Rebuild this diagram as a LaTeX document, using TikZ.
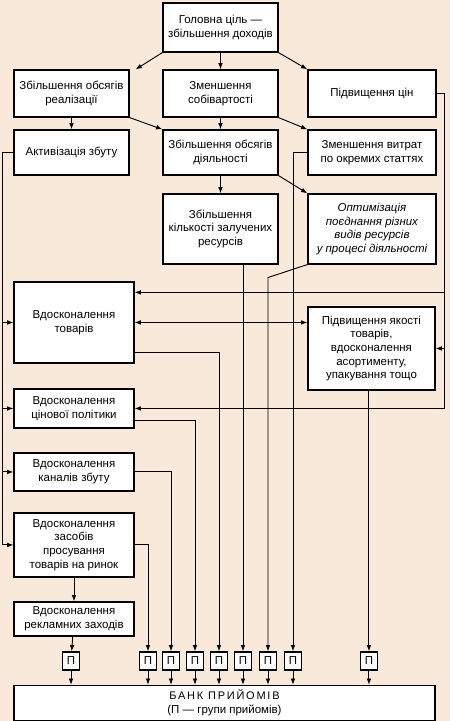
\documentclass[tikz,border=0pt]{standalone}
\usepackage{fontspec}
\setmainfont{Liberation Sans}
\newfontfamily\spacedfont[LetterSpace=16]{Liberation Sans}
\usetikzlibrary{arrows.meta,calc}
\definecolor{bgpeach}{RGB}{248,233,219}

\begin{document}
\begin{tikzpicture}[x=0.03cm, y=-0.03cm,
    box/.style={draw, fill=white, line width=1pt, align=center, inner sep=2pt,
        font=\fontsize{9.8}{11.6}\selectfont},
    pbox/.style={draw, fill=white, line width=1pt, minimum width=0.51cm,
        minimum height=0.54cm, inner sep=0pt, font=\fontsize{9.8}{10}\selectfont},
    arr/.style={line width=0.8pt, -{Latex[length=1.9mm,width=1.4mm]}},
    darr/.style={line width=0.8pt, {Latex[length=1.9mm,width=1.4mm]}-{Latex[length=1.9mm,width=1.4mm]}},
    line/.style={line width=0.8pt}]
    % Background
    \fill[bgpeach] (0,0) rectangle (450,721);

    % Goal and the three ways to it
    \node[box, minimum width=3.45cm, minimum height=1.47cm] (goal) at (220.5,27.5)
        {Головна ціль —\\збільшення доходів};
    \node[box, minimum width=3.45cm, minimum height=1.41cm] (sales) at (71.5,93.5)
        {Збільшення обсягів\\реалізації};
    \node[box, minimum width=3.45cm, minimum height=1.41cm] (cost) at (220.5,93.5)
        {Зменшення\\собівартості};
    \node[box, minimum width=3.84cm, minimum height=1.41cm] (price) at (372,93.5)
        {Підвищення цін};

    % Second level
    \node[box, minimum width=3.45cm, minimum height=1.35cm] (activ) at (71.5,152.5)
        {Активізація збуту};
    \node[box, minimum width=3.45cm, minimum height=1.35cm] (volume) at (220.5,152.5)
        {Збільшення обсягів\\діяльності};
    \node[box, minimum width=3.84cm, minimum height=1.35cm] (expense) at (372,152.5)
        {Зменшення витрат\\по окремих статтях};
    \node[box, minimum width=3.45cm, minimum height=2.1cm] (resources) at (220.5,229)
        {Збільшення\\кількості залучених\\ресурсів};
    \node[box, minimum width=3.84cm, minimum height=2.1cm, font=\fontsize{9.8}{11.6}\selectfont\itshape]
        (optim) at (372,229)
        {Оптимізація\\поєднання різних\\видів ресурсів\\у процесі діяльності};

    % Improvement measures
    \node[box, minimum width=3.6cm, minimum height=2.43cm] (goods) at (74,322.5)
        {Вдосконалення\\товарів};
    \node[box, minimum width=3.81cm, minimum height=2.49cm] (quality) at (371.5,348.5)
        {Підвищення якості\\товарів,\\вдосконалення\\асортименту,\\упакування тощо};
    \node[box, minimum width=3.6cm, minimum height=1.17cm] (pricing) at (74,408.5)
        {Вдосконалення\\цінової політики};
    \node[box, minimum width=3.6cm, minimum height=1.14cm] (channels) at (74,472)
        {Вдосконалення\\каналів збуту};
    \node[box, minimum width=3.6cm, minimum height=1.92cm] (promo) at (74,545)
        {Вдосконалення\\засобів\\просування\\товарів на ринок};
    \node[box, minimum width=3.6cm, minimum height=1.02cm] (advert) at (74,619)
        {Вдосконалення\\рекламних заходів};

    % Bank and groups
    \node[box, minimum width=12.63cm, minimum height=1.05cm] (bank) at (224.5,703)
        {{\spacedfont\fontsize{9.4}{11}\selectfont БАНК ПРИЙОМІВ}\\(П — групи прийомів)};
    \foreach \i/\x in {1/71,2/148,3/171,4/195,5/219,6/243,7/268,8/293,9/369} {
        \node[pbox] (p\i) at (\x,661) {П};
        \draw[arr] (p\i.south) -- (p\i.south |- bank.north);
    }

    % Tree arrows
    \draw[arr] (goal.south west) -- ($(sales.north east)+(6,0)$);
    \draw[arr] (goal) -- (cost);
    \draw[arr] (goal.south east) -- (price.north west);
    \draw[arr] (sales) -- (activ);
    \draw[arr] (sales.south east) -- (volume.north west);
    \draw[arr] (cost) -- (volume);
    \draw[arr] (cost.south east) -- (expense.north west);
    \draw[arr] (volume) -- (resources);
    \draw[arr] (volume.south east) -- (optim.north west);

    % Left bus
    \coordinate (lbus) at ($(activ.west)+(-11,0)$);
    \draw[line] (activ.west) -- (lbus);
    \draw[arr] (lbus) |- (promo.west);
    \foreach \n in {goods,pricing,channels}
        \draw[arr] (lbus |- \n.west) -- (\n.west);

    % Right bus
    \coordinate (rbus) at ($(price.east)+(8,0)$);
    \coordinate (gtop) at ($(goods.north east)+(0,11)$);
    \draw[line] (price.east) -- (rbus);
    \draw[arr] (rbus) |- (pricing.east);
    \draw[arr] (rbus |- gtop) -- (gtop);
    \draw[arr] (rbus |- quality.east) -- (quality.east);
    \draw[darr] (goods.east) -- (quality.west |- goods.east);

    % Into the groups
    \coordinate (gbot) at ($(goods.south east)+(0,-11)$);
    \coordinate (pbot) at ($(pricing.south east)+(0,-8)$);
    \coordinate (obend) at ($(optim.south west)+(0,13)$);
    \draw[arr] (advert) -- (p1);
    \draw[arr] (promo) -- (advert);
    \draw[arr] (promo.east) -| (p2.north);
    \draw[arr] (channels.east) -| (p3.north);
    \draw[arr] (pbot) -| (p4.north);
    \draw[arr] (gbot) -| (p5.north);
    \draw[arr] (p6 |- resources.south) -- (p6.north);
    \draw[arr] (optim.south west) -- (p7 |- obend) -- (p7.north);
    \draw[arr] (expense.west) -| (p8.north);
    \draw[arr] (p9 |- quality.south) -- (p9.north);
\end{tikzpicture}
\end{document}
